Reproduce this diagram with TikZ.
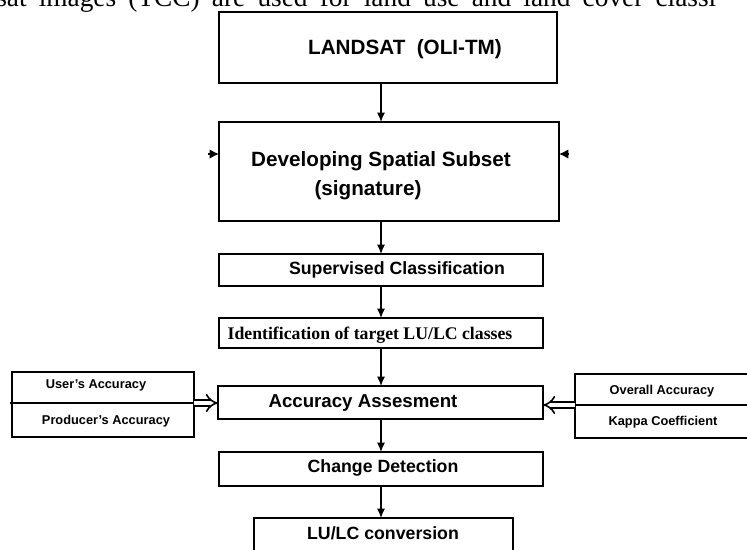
\documentclass[tikz,border=0pt]{standalone}
\usepackage{fontspec}
\setmainfont{Liberation Serif}
\setsansfont{Liberation Sans}
\usetikzlibrary{arrows.meta,fit}
\begin{document}
\begin{tikzpicture}[x=0.75pt,y=-0.75pt,
  box/.style={draw, line width=1.4pt, inner sep=0pt, outer sep=0pt},
  arr/.style={-{Latex[length=7pt,width=6pt]}, line width=0.9pt},
  sidearr/.style={-{Latex[length=7pt,width=7pt]}, line width=0.9pt},
  openarr/.style={line width=1.2pt, double distance=3.5pt, -{Implies[length=9pt,width=16pt]}},
  divider/.style={line width=1.8pt},
  big/.style={font=\fontsize{15.5}{19}\selectfont\sffamily\bfseries, align=center},
  mid/.style={font=\fontsize{13.3}{16}\selectfont\sffamily\bfseries},
  serifb/.style={font=\fontsize{13.3}{16}\selectfont\rmfamily\bfseries},
  small/.style={font=\fontsize{9.6}{12}\selectfont\sffamily\bfseries},
  toptext/.style={font=\fontsize{20.5}{24}\selectfont\rmfamily}]
\useasboundingbox (0,0) rectangle (747,550);
\begin{scope}
\clip (0,0) rectangle (747,550);
% cropped line of justified text above the figure
\node[toptext, anchor=base west, inner sep=0pt] (top) at (-4,6) {\makebox[540pt][s]{sat images (TCC) are used for land use and land cover classi}};

% boxes
\node[box, fit={(219,12) (557,83)}] (b1) {};
\node[box, fit={(219,122) (559,221)}] (b2) {};
\node[box, fit={(219,254) (543,286)}] (b3) {};
\node[box, fit={(219,318) (543,348)}] (b4) {};
\node[box, fit={(218,386) (543,419)}] (b5) {};
\node[box, fit={(219,452) (543,486)}] (b6) {};
\node[box, fit={(254,518) (513,570)}] (b7) {};
\node[box, fit={(12,372) (194,437)}] (lb) {};
\node[box, fit={(575,374) (770,438)}] (rb) {};

% texts
\node[big] (t1) at (405,49) {LANDSAT\ \ (OLI-TM)};
\node[big] (t2a) at (381,161) {Developing Spatial Subset};
\node[big] (t2b) at (368,190) {(signature)};
\node[mid] (t3) at (397,270) {Supervised Classification};
\node[serifb] (t4) at (370,335) {Identification of target LU/LC classes};
\node[mid, font=\fontsize{14}{16}\selectfont\sffamily\bfseries] (t5) at (363,403) {Accuracy Assesment};
\node[mid] (t6) at (383,468) {Change Detection};
\node[mid] (t7) at (383,533) {LU/LC conversion};
\node[small] (l1) at (96,385) {User's Accuracy};
\node[small] (l2) at (106,421) {Producer's Accuracy};
\node[small] (r1) at (662,391) {Overall Accuracy};
\node[small] (r2) at (663,422) {Kappa Coefficient};

% dividers in the side boxes
\coordinate (ld) at (10,403);
\draw[divider] (ld) -- (ld -| lb.east);
\coordinate (rd) at (760,405);
\draw[divider] (rd) -- (rd -| rb.west);

% vertical flow arrows
\coordinate (ax) at (381,0);
\draw[arr] (b1.south -| ax) -- (b2.north -| ax);
\draw[arr] (b2.south -| ax) -- (b3.north -| ax);
\draw[arr] (b3.south -| ax) -- (b4.north -| ax);
\draw[arr] (b4.south -| ax) -- (b5.north -| ax);
\draw[arr] (b5.south -| ax) -- (b6.north -| ax);
\draw[arr] (b6.south -| ax) -- (b7.north -| ax);

% small side arrowheads at the second box
\coordinate (lf) at (208,154);
\draw[sidearr] (lf) -- (lf -| b2.west);
\coordinate (rf) at (568,154);
\draw[sidearr] (rf) -- (rf -| b2.east);

% open arrows into the accuracy box
\coordinate (la) at (0,403);
\draw[openarr] (la -| lb.east) -- (la -| b5.west);
\coordinate (ra) at (0,405);
\draw[openarr] (ra -| rb.west) -- (ra -| b5.east);
\end{scope}
\end{tikzpicture}
\end{document}
